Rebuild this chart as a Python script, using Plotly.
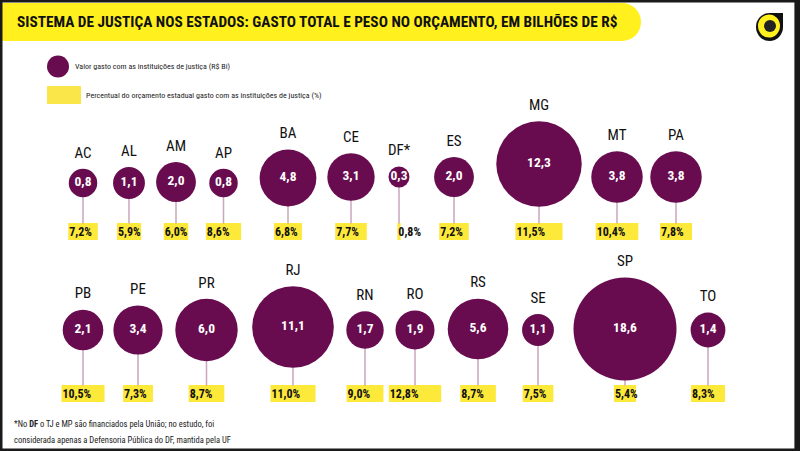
import math
import plotly.graph_objects as go

# dados
estados_1 = ["AC", "AL", "AM", "AP", "BA", "CE", "DF*", "ES", "MG", "MT", "PA"]
gasto_1 = [0.8, 1.1, 2.0, 0.8, 4.8, 3.1, 0.3, 2.0, 12.3, 3.8, 3.8]
perc_1 = [7.2, 5.9, 6.0, 8.6, 6.8, 7.7, 0.8, 7.2, 11.5, 10.4, 7.8]

estados_2 = ["PB", "PE", "PR", "RJ", "RN", "RO", "RS", "SE", "SP", "TO"]
gasto_2 = [2.1, 3.4, 6.0, 11.1, 1.7, 1.9, 5.6, 1.1, 18.6, 1.4]
perc_2 = [10.5, 7.3, 8.7, 11.0, 9.0, 12.8, 8.7, 7.5, 5.4, 8.3]

# layout (posicoes das bolhas em pixels)
slot_x_1 = [83, 129, 176, 223.5, 288, 351, 399, 454, 539, 617, 676]
slot_y_1 = [183, 183, 182, 183, 178, 177, 177, 177, 164, 177, 177]
slot_x_2 = [83, 138, 206.5, 293, 365, 415, 478, 538, 625, 708]
slot_y_2 = [330, 330, 330, 327, 330, 330, 329, 330, 329, 330]
box_y = [231.5, 393.5]

ROXO = "#680c4f"
AMARELO = "#fde93a"
HASTE = "#c9a6bb"
FONTE = "Roboto Condensed, Roboto, sans-serif"


def diam(v):
    return 9 + 21.8 * math.sqrt(v)


def br(v, suf=""):
    return f"{v:.1f}".replace(".", ",") + suf


fig = go.Figure()

for estados, gasto, perc, sx, sy, by in [
    (estados_1, gasto_1, perc_1, slot_x_1, slot_y_1, box_y[0]),
    (estados_2, gasto_2, perc_2, slot_x_2, slot_y_2, box_y[1]),
]:
    d = [diam(v) for v in gasto]
    w = [4.1 * p for p in perc]

    # hastes
    hx, hy = [], []
    for x, y in zip(sx, sy):
        hx += [x, x, None]
        hy += [y, by - 8, None]
    fig.add_trace(go.Scatter(x=hx, y=hy, mode="lines",
                             line=dict(color=HASTE, width=1.5), hoverinfo="skip"))

    # barras amarelas (percentual)
    fig.add_trace(go.Bar(orientation="h", y=[by] * len(perc), x=w,
                         base=[x - ww / 2 for x, ww in zip(sx, w)],
                         width=17, marker=dict(color=AMARELO, line_width=0)))
    fig.add_trace(go.Scatter(x=[x - ww / 2 + 1 for x, ww in zip(sx, w)], y=[by + 1] * len(perc),
                             mode="text", text=[br(p, "%") for p in perc],
                             textposition="middle right",
                             textfont=dict(family=FONTE, size=12, color="#111111", weight="bold")))

    # bolhas
    fig.add_trace(go.Scatter(x=sx, y=sy, mode="markers+text",
                             marker=dict(size=d, color=ROXO, line_width=0, opacity=1),
                             text=[br(v) for v in gasto], textposition="middle center",
                             textfont=dict(family=FONTE, size=13.5, color="white", weight="bold")))

    # siglas
    fig.add_trace(go.Scatter(x=sx, y=[y - dd / 2 - 15 for y, dd in zip(sy, d)],
                             mode="text", text=estados, textposition="middle center",
                             textfont=dict(family=FONTE, size=15, color="#111111")))

# legenda
fig.add_trace(go.Scatter(x=[58], y=[66.5], mode="markers",
                         marker=dict(size=22, color=ROXO, line_width=0)))

shapes = [
    # faixa do titulo
    dict(type="rect", x0=0, x1=622, y0=3, y1=41, fillcolor="#fff01e", line_width=0, layer="below"),
    dict(type="circle", x0=603, x1=641, y0=3, y1=41, fillcolor="#fff01e", line_width=0, layer="below"),
    # quadrado da legenda
    dict(type="rect", x0=47, x1=81, y0=86, y1=104, fillcolor="#fbe64a", line_width=0),
    # logo
    dict(type="rect", x0=769, x1=783, y0=13, y1=27, fillcolor="#111111", line_width=0),
    dict(type="circle", x0=756, x1=783, y0=13, y1=41, fillcolor="#111111", line_width=0),
    dict(type="circle", x0=758, x1=780, y0=14.5, y1=37.5, fillcolor="#fff01e", line_width=0),
    dict(type="circle", x0=764, x1=776, y0=20, y1=32, fillcolor="#222222", line_width=0),
    # moldura
    dict(type="rect", xref="paper", yref="paper", x0=0, x1=1, y0=0, y1=1,
         line=dict(color="#1a1a1a", width=5)),
    dict(type="rect", xref="paper", yref="paper", x0=0.993, x1=1, y0=0, y1=1,
         fillcolor="#1a1a1a", line_width=0),
]

annotations = [
    dict(x=15, y=22, text="<b>SISTEMA DE JUSTIÇA NOS ESTADOS: GASTO TOTAL E PESO NO ORÇAMENTO, EM BILHÕES DE R$</b>",
         xanchor="left", yanchor="middle", showarrow=False,
         font=dict(family=FONTE, size=15.3, color="#111111")),
    dict(x=73, y=66, text="Valor gasto com as instituições de justiça (R$ Bi)",
         xanchor="left", yanchor="middle", showarrow=False,
         font=dict(family=FONTE, size=8, color="#222222")),
    dict(x=84, y=95, text="Percentual do orçamento estadual gasto com as instituições de justiça (%)",
         xanchor="left", yanchor="middle", showarrow=False,
         font=dict(family=FONTE, size=8, color="#222222")),
    dict(x=12, y=424, text="*No <b>DF</b> o TJ e MP são financiados pela União; no estudo, foi",
         xanchor="left", yanchor="middle", showarrow=False,
         font=dict(family=FONTE, size=8.5, color="#222222")),
    dict(x=12, y=440, text="considerada apenas a Defensoria Pública do DF, mantida pela UF",
         xanchor="left", yanchor="middle", showarrow=False,
         font=dict(family=FONTE, size=8.5, color="#222222")),
]

fig.update_xaxes(range=[0, 800], visible=False, fixedrange=True)
fig.update_yaxes(range=[451, 0], visible=False, fixedrange=True)
fig.update_layout(width=800, height=451, autosize=False,
                  margin=dict(l=0, r=0, t=0, b=0),
                  plot_bgcolor="white", paper_bgcolor="white",
                  showlegend=False, barmode="overlay",
                  shapes=shapes, annotations=annotations)
fig.write_html("out.html", post_script="document.body.style.margin='0';",
               config={"displayModeBar": False})
